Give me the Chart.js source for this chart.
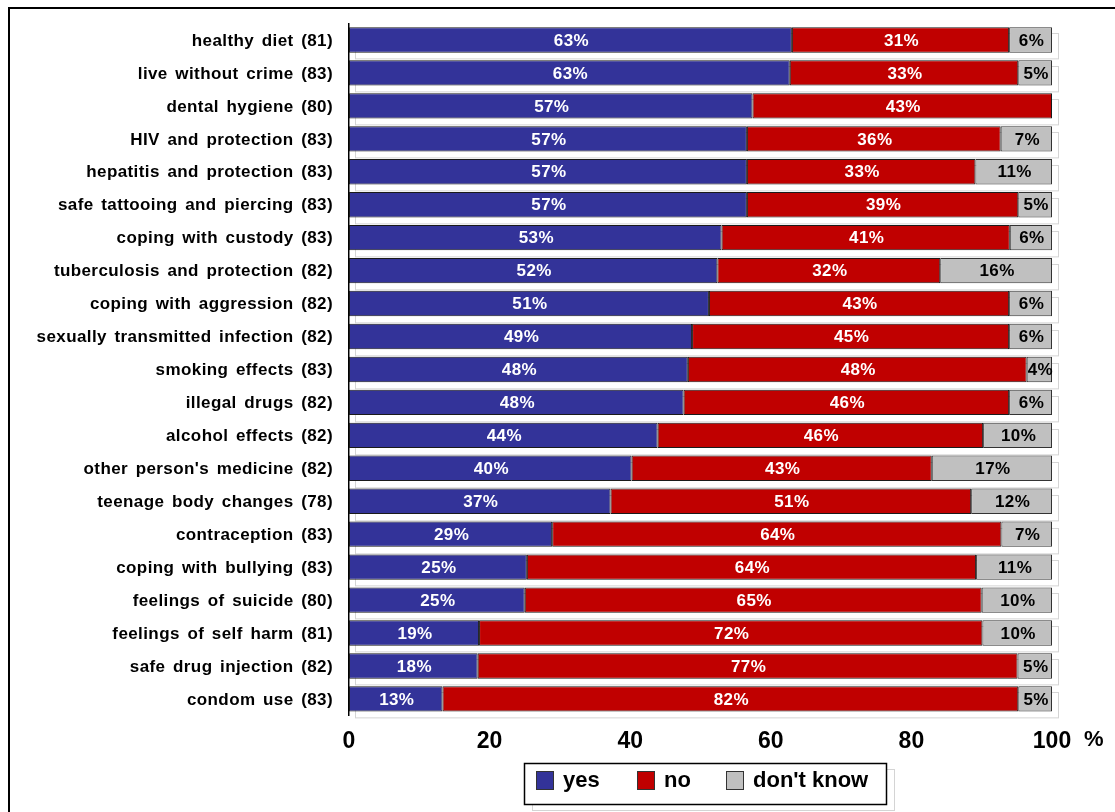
<!DOCTYPE html>
<html>
<head>
<meta charset="utf-8">
<script src="https://cdn.jsdelivr.net/npm/chart.js@4/dist/chart.umd.min.js"></script>
<style>
  html, body { margin: 0; padding: 0; background: #fff; }
  #wrap { width: 1115px; height: 812px; position: relative; }
</style>
</head>
<body>
<div id="wrap"><canvas id="chartbar" width="1115" height="812"></canvas></div>
<script>
const topics = [
  'healthy diet (81)', 'live without crime (83)', 'dental hygiene (80)', 'HIV and protection (83)',
  'hepatitis and protection (83)', 'safe tattooing and piercing (83)', 'coping with custody (83)',
  'tuberculosis and protection (82)', 'coping with aggression (82)', 'sexually transmitted infection (82)',
  'smoking effects (83)', 'illegal drugs (82)', 'alcohol effects (82)', "other person's medicine (82)",
  'teenage body changes (78)', 'contraception (83)', 'coping with bullying (83)', 'feelings of suicide (80)',
  'feelings of self harm (81)', 'safe drug injection (82)', 'condom use (83)'
];
const yes = [63.0, 62.7, 57.4, 56.6, 56.6, 56.6, 53.0, 52.4, 51.2, 48.8, 48.2, 47.6, 43.9, 40.2, 37.2, 28.9, 25.3, 25.0, 18.5, 18.3, 13.3];
const no = [30.9, 32.5, 42.6, 36.1, 32.5, 38.6, 41.0, 31.7, 42.7, 45.1, 48.2, 46.3, 46.3, 42.7, 51.3, 63.9, 63.9, 65.0, 71.6, 76.8, 81.9];
const dontKnow = [6.1, 4.8, 0, 7.3, 10.9, 4.8, 6.0, 15.9, 6.1, 6.1, 3.6, 6.1, 9.8, 17.1, 11.5, 7.2, 10.8, 10.0, 9.9, 4.9, 4.8];
const xTicks = [0, 20, 40, 60, 80, 100];

const FONT = 'Liberation Sans, Arial, sans-serif';

// light grey shadow outline behind every bar row
const shadows = {
  id: 'shadows',
  beforeDatasetsDraw(chart) {
    const ctx = chart.ctx;
    const xs = chart.scales.x;
    const meta = chart.getDatasetMeta(0);
    ctx.save();
    ctx.strokeStyle = '#d4d4d4';
    ctx.lineWidth = 1;
    meta.data.forEach(bar => {
      const h = bar.height;
      const l = xs.getPixelForValue(0) + 6;
      const r = xs.getPixelForValue(100) + 6;
      ctx.strokeRect(Math.round(l) + 0.5, Math.round(bar.y - h / 2 + 6) + 0.5, r - l, h);
    });
    ctx.restore();
  }
};

const barLabels = {
  id: 'barLabels',
  afterDatasetsDraw(chart) {
    const ctx = chart.ctx;
    ctx.save();
    ctx.font = 'bold 17px ' + FONT;
    ctx.letterSpacing = '0.4px';
    ctx.textAlign = 'center';
    ctx.textBaseline = 'middle';
    chart.data.datasets.forEach((ds, i) => {
      chart.getDatasetMeta(i).data.forEach((bar, j) => {
        const v = ds.data[j];
        if (v < 1) return;
        const p = bar.getProps(['x', 'y', 'base'], true);
        ctx.fillStyle = i == 2 ? '#000' : '#fff';
        ctx.fillText(Math.round(v) + '%', (p.x + p.base) / 2 + 1, p.y + 1);
      });
    });
    ctx.restore();
  }
};

// category names, drawn with the wider spacing of the original
const catLabels = {
  id: 'catLabels',
  afterDraw(chart) {
    const ctx = chart.ctx;
    const ys = chart.scales.y;
    ctx.save();
    ctx.font = 'bold 17px ' + FONT;
    ctx.letterSpacing = '0.4px';
    ctx.wordSpacing = '2.5px';
    ctx.fillStyle = '#000';
    ctx.textAlign = 'right';
    ctx.textBaseline = 'middle';
    chart.data.labels.forEach((lab, i) => {
      ctx.fillText(lab, 333, ys.getPixelForTick(i) + 1);
    });
    ctx.restore();
  }
};

const extras = {
  id: 'extras',
  afterDraw(chart) {
    const ctx = chart.ctx;
    ctx.save();
    // % after 100
    ctx.font = 'bold 22px ' + FONT;
    ctx.fillStyle = '#000';
    ctx.textBaseline = 'middle';
    ctx.fillText('%', 1084, 740);

    // legend
    const bx = 524, by = 763, bw = 362, bh = 41;
    ctx.strokeStyle = '#d4d4d4';
    ctx.lineWidth = 1;
    ctx.strokeRect(bx + 8.5, by + 6.5, bw, bh);
    ctx.fillStyle = '#fff';
    ctx.fillRect(bx, by, bw, bh);
    ctx.strokeStyle = '#000';
    ctx.lineWidth = 1.5;
    ctx.strokeRect(bx + 0.5, by + 0.5, bw, bh);
    const itemX = [536, 637, 726];
    ctx.font = 'bold 22px ' + FONT;
    ctx.textAlign = 'left';
    chart.data.datasets.forEach((ds, i) => {
      ctx.fillStyle = ds.backgroundColor;
      ctx.fillRect(itemX[i], 771, 17, 18);
      ctx.strokeStyle = '#333';
      ctx.lineWidth = 1;
      ctx.strokeRect(itemX[i] + 0.5, 771.5, 17, 18);
      ctx.fillStyle = '#000';
      ctx.fillText(ds.label, itemX[i] + 27, 781);
    });

    // outer frame
    ctx.strokeStyle = '#000';
    ctx.lineWidth = 2;
    ctx.beginPath();
    ctx.moveTo(9, 812);
    ctx.lineTo(9, 8);
    ctx.lineTo(1115, 8);
    ctx.stroke();
    ctx.restore();
  }
};

const ctx = document.getElementById('chartbar').getContext('2d');
const myChart = new Chart(ctx, {
  type: 'bar',
  data: {
    labels: topics,
    datasets: [{
      label: 'yes',
      data: yes,
      backgroundColor: '#333399',
      borderColor: '#1a1a1a',
      borderWidth: 1,
      borderSkipped: false
    }, {
      label: 'no',
      data: no,
      backgroundColor: '#C00000',
      borderColor: '#1a1a1a',
      borderWidth: 1,
      borderSkipped: false
    }, {
      label: "don't know",
      data: dontKnow,
      backgroundColor: '#C0C0C0',
      borderColor: '#333',
      borderWidth: 1,
      borderSkipped: false
    }]
  },
  options: {
    indexAxis: 'y',
    responsive: false,
    animation: false,
    layout: { padding: { left: 10, right: 63, top: 23.5, bottom: 45 } },
    datasets: { bar: { categoryPercentage: 1, barPercentage: 0.77 } },
    scales: {
      x: {
        stacked: true,
        min: 0,
        max: 100,
        afterBuildTicks(axis) { axis.ticks = xTicks.map(v => ({ value: v })); },
        grid: { display: false, drawTicks: false },
        border: { display: false },
        ticks: { color: '#000', padding: 12, maxRotation: 0, font: { family: FONT, size: 23, weight: 'bold' } }
      },
      y: {
        stacked: true,
        afterFit(axis) { axis.width = 339; },
        grid: { display: false, drawTicks: false },
        border: { display: true, color: '#000', width: 1.5 },
        ticks: { display: false }
      }
    },
    plugins: {
      legend: { display: false },
      tooltip: { enabled: false }
    }
  },
  plugins: [shadows, barLabels, catLabels, extras]
});
</script>
</body>
</html>
